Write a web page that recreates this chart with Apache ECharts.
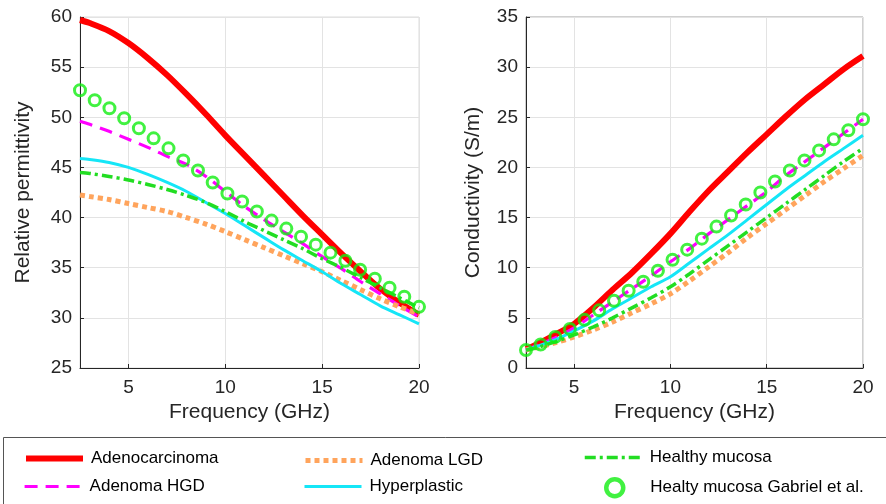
<!DOCTYPE html>
<html><head><meta charset="utf-8">
<script src="https://cdn.jsdelivr.net/npm/echarts@6/dist/echarts.min.js"></script>
<style>html,body{margin:0;padding:0;background:#fff}#c{width:886px;height:504px}</style>
</head><body><div id="c"></div>
<script>
const freq = [2.5,3,4,5,6,7,8,9,10,11,12,13,14,15,16,17,18,19,20];
const freqGabriel = [2.5,3.26,4.02,4.78,5.54,6.3,7.07,7.83,8.59,9.35,10.11,10.87,11.63,12.39,13.15,13.91,14.67,15.43,16.2,16.96,17.72,18.48,19.24,20];

const permAdenocarcinoma = [59.7,59.4,58.6,57.4,55.9,54.2,52.3,50.3,48.2,46.2,44.2,42.2,40.2,38.3,36.4,34.6,32.9,31.5,30.3];
const permHGD = [49.6,49.3,48.6,47.8,47.0,46.1,45.3,44.1,42.6,41.1,39.8,38.6,37.4,36.1,34.9,33.6,32.4,31.2,30.1];
const permLGD = [42.25,42.1,41.8,41.4,41.0,40.6,40.0,39.35,38.6,37.8,37.0,36.2,35.4,34.6,33.7,32.8,31.9,31.1,30.4];
const permHyper = [45.9,45.8,45.5,45.0,44.3,43.5,42.6,41.5,40.4,39.2,38.0,36.8,35.7,34.6,33.4,32.3,31.2,30.3,29.4];
const permHealthy = [44.5,44.4,44.1,43.75,43.3,42.8,42.2,41.5,40.6,39.6,38.7,37.8,36.9,35.9,35.0,34.0,33.0,32.0,31.0];
const permGabriel = [52.7,51.7,50.9,49.9,48.9,47.9,46.9,45.7,44.7,43.5,42.4,41.6,40.6,39.7,38.9,38.1,37.3,36.5,35.7,34.8,33.9,33.0,32.1,31.1];

const condAdenocarcinoma = [1.9,2.3,3.3,4.4,6.0,7.8,9.5,11.4,13.4,15.6,17.7,19.6,21.5,23.3,25.1,26.8,28.3,29.8,31.1];
const condHGD = [1.8,2.2,3.0,4.0,5.3,6.6,7.9,9.2,10.6,11.9,13.4,14.8,16.2,17.6,19.2,20.6,22.0,23.4,24.8];
const condLGD = [1.8,2.0,2.5,3.1,3.8,4.6,5.5,6.4,7.4,8.7,10.1,11.5,13.0,14.4,15.8,17.2,18.6,19.9,21.2];
const condHyper = [1.8,2.1,2.8,3.7,4.7,5.9,7.0,8.1,9.1,10.5,11.9,13.3,14.8,16.3,17.8,19.2,20.6,21.9,23.2];
const condHealthy = [1.8,2.0,2.6,3.3,4.1,5.0,6.0,7.0,8.1,9.4,10.8,12.2,13.6,15.0,16.4,17.8,19.2,20.6,21.9];
const condGabriel = [1.8,2.35,3.1,3.9,4.8,5.75,6.7,7.7,8.6,9.7,10.8,11.8,12.9,14.1,15.2,16.3,17.5,18.6,19.7,20.7,21.7,22.8,23.7,24.8];

const names = ['Adenocarcinoma','Adenoma HGD','Adenoma LGD','Hyperplastic','Healthy mucosa','Healty mucosa Gabriel et al.'];
const xTitle = 'Frequency (GHz)';
const yTitles = ['Relative permittivity','Conductivity (S/m)'];

const FONT = '"Liberation Sans", Arial, sans-serif';
const TXT = '#262626';
const pairs = (xs, ys) => xs.map((x, i) => [x, ys[i]]);

const styles = [
  {color:'#ff0000', width:6, type:'solid'},
  {color:'#ff00ff', width:3.2, type:[13,8]},
  {color:'#ffa45c', width:5, type:[5,4]},
  {color:'#15e6f7', width:3, type:'solid'},
  {color:'#22dd22', width:3.5, type:[11,4,3,4]}
];
const gabrielColor = '#11ee11';

function lineSeries(name, idx, ys, gi) {
  const s = styles[idx];
  return {
    type:'line', name, xAxisIndex:gi, yAxisIndex:gi, data:pairs(freq, ys),
    smooth:0.3, symbol:'none', showSymbol:false, color:s.color,
    lineStyle:{color:s.color, width:s.width, type:s.type, cap:'butt'}, z:2+idx
  };
}
function circleSeries(ys, gi) {
  return {
    type:'scatter', name:names[5], xAxisIndex:gi, yAxisIndex:gi, data:pairs(freqGabriel, ys),
    symbol:'circle', symbolSize:11, color:gabrielColor,
    itemStyle:{color:'rgba(255,255,255,0)', borderColor:gabrielColor, borderWidth:3}, z:10
  };
}

function xAx(gi) {
  return {
    type:'value', gridIndex:gi, min:2.5, max:20, splitNumber:4,
    name:xTitle, nameLocation:'middle', nameGap:34,
    nameTextStyle:{fontSize:21, fontFamily:FONT, color:TXT},
    axisLine:{onZero:false, lineStyle:{color:'#262626', width:1}},
    axisTick:{inside:true, length:4, lineStyle:{color:'#262626'}},
    axisLabel:{fontSize:19, fontFamily:FONT, color:TXT, margin:10, showMinLabel:false},
    splitLine:{show:true, lineStyle:{color:'#e3e3e3', width:1}}
  };
}
function yAx(gi, min, max, nameGap) {
  return {
    type:'value', gridIndex:gi, min, max, interval:5,
    name:yTitles[gi], nameLocation:'middle', nameGap,
    nameTextStyle:{fontSize:21, fontFamily:FONT, color:TXT},
    axisLine:{onZero:false, lineStyle:{color:'#262626', width:1}},
    axisTick:{inside:true, length:4, lineStyle:{color:'#262626'}},
    axisLabel:{fontSize:19, fontFamily:FONT, color:TXT, margin:8},
    splitLine:{show:true, lineStyle:{color:'#e3e3e3', width:1}}
  };
}

function legend(name, left, top, lw) {
  return {
    data:[name], left, top, itemWidth:57, itemHeight:14, itemGap:0, selectedMode:false,
    padding:0, textStyle:{fontSize:17, fontFamily:FONT, color:'#000', padding:[0,0,0,3]},
    lineStyle:{width:lw}, itemStyle:{opacity:0}
  };
}

const chart = echarts.init(document.getElementById('c'), null, {renderer:'canvas'});
chart.setOption({
  backgroundColor:'#fff',
  animation:false,
  grid:[
    {left:80, top:17, width:339, height:351, show:true, borderColor:'#dcdcdc', borderWidth:1},
    {left:526, top:17, width:337, height:351, show:true, borderColor:'#a0a0a0', borderWidth:1}
  ],
  xAxis:[xAx(0), xAx(1)],
  yAxis:[yAx(0, 25, 60, 46), yAx(1, 0, 35, 42)],
  legend:[
    legend(names[0], 23, 450, 6),
    legend(names[1], 23, 478, 3.2),
    legend(names[2], 303, 452, 5),
    legend(names[3], 303, 478, 3),
    legend(names[4], 583, 449, 3.5),
    {
      data:[names[5]], left:604, top:477, itemWidth:17, itemHeight:17, itemGap:0, selectedMode:false,
      padding:0, textStyle:{fontSize:17, fontFamily:FONT, color:'#000', padding:[0,0,0,22]},
      itemStyle:{borderWidth:4.5, borderColor:gabrielColor, color:'#fff'}
    }
  ],
  graphic:[{type:'rect', shape:{x:3.5, y:437.5, width:900, height:80}, style:{fill:'none', stroke:'#555', lineWidth:1}, silent:true, z:-1}],
  series:[
    lineSeries(names[0],0,permAdenocarcinoma,0),
    lineSeries(names[1],1,permHGD,0),
    lineSeries(names[2],2,permLGD,0),
    lineSeries(names[3],3,permHyper,0),
    lineSeries(names[4],4,permHealthy,0),
    circleSeries(permGabriel,0),
    lineSeries(names[0],0,condAdenocarcinoma,1),
    lineSeries(names[1],1,condHGD,1),
    lineSeries(names[2],2,condLGD,1),
    lineSeries(names[3],3,condHyper,1),
    lineSeries(names[4],4,condHealthy,1),
    circleSeries(condGabriel,1)
  ]
});
</script></body></html>
